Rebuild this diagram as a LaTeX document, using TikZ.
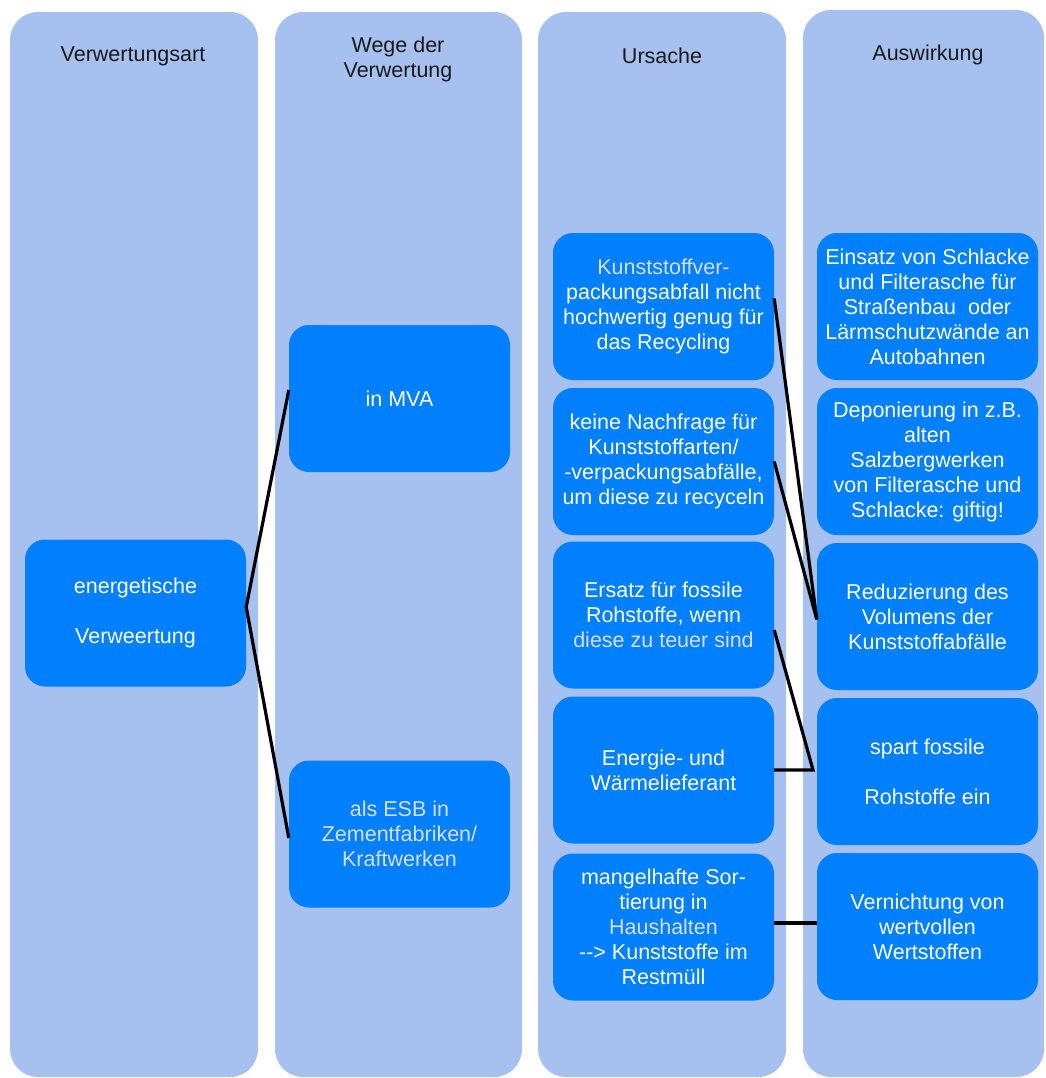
\documentclass[tikz,border=0pt]{standalone}
\usepackage{fontspec}
\setmainfont[Ligatures=NoCommon]{Liberation Sans}
\begin{document}
\begin{tikzpicture}[x=1pt,y=-1pt,
  column/.style={fill=colbg,draw=none,rounded corners=28pt},
  head/.style={font=\fontsize{21.5}{25}\selectfont,text=black!90,align=center},
  card/.style={fill=cardblue,draw=none,rounded corners=20pt,
    minimum width=221pt,minimum height=147pt,inner sep=0pt,
    text=white,align=center,font=\fontsize{21.5}{25}\selectfont},
  link/.style={line width=3.2pt,black}]
\definecolor{colbg}{HTML}{A6C0F0}
\definecolor{cardblue}{HTML}{0080FF}
\definecolor{pale}{HTML}{D8DEF8}
\useasboundingbox (0,0) rectangle (1045,1078);
\fill[white] (0,0) rectangle (1045,1078);

% four column panels
\path[column] (10,12) rectangle (258,1077);
\path[column] (275,12) rectangle (522,1077);
\path[column] (538,12) rectangle (786,1077);
\path[column] (803,10) rectangle (1044,1077);

% column headings
\node[head] (h1) at (133,56) {Verwertungsart};
\node[head] (h2) at (398,59) {Wege der\\Verwertung};
\node[head] (h3) at (662,56) {Ursache};
\node[head] (h4) at (928,55) {Auswirkung};

% kind of recovery
\node[card] (ev) at (135.5,613) {energetische\\[25pt]Verweertung};

% routes
\node[card] (mva) at (399.5,398.5) {in MVA};
\node[card] (esb) at (399.5,834) {\textcolor{pale}{als ESB in}\\\textcolor{pale}{Zementfabriken/}\\\textcolor{pale}{Kraftwerken}};

% causes
\node[card] (u1) at (663.5,306.5) {\textcolor{pale}{Kunststoffver-}\\packungsabfall nicht\\hochwertig genug für\\das Recycling};
\node[card] (u2) at (663.5,461.5) {keine Nachfrage für\\Kunststoffarten/\\-verpackungsabfälle,\\um diese zu recyceln};
\node[card] (u3) at (663.5,615) {Ersatz für fossile\\Rohstoffe, wenn\\\textcolor{pale}{diese zu teuer sind}};
\node[card] (u4) at (663.5,770) {Energie- und\\Wärmelieferant};
\node[card] (u5) at (663.5,927) {mangelhafte Sor-\\tierung in\\\textcolor{pale}{Haushalten}\\{-}{-}> Kunststoffe im\\Restmüll};

% effects
\node[card] (a1) at (927.5,306.5) {Einsatz von Schlacke\\und Filterasche für\\Straßenbau\ \ oder\\Lärmschutzwände an\\Autobahnen};
\node[card] (a2) at (927.5,461.5) {Deponierung in z.B.\\alten\\Salzbergwerken\\von Filterasche und\\Schlacke: giftig!};
\node[card] (a3) at (927.5,616.5) {Reduzierung des\\Volumens der\\Kunststoffabfälle};
\node[card] (a4) at (927.5,771.5) {spart fossile\\[25pt]Rohstoffe ein};
\node[card] (a5) at (927.5,926.5) {Vernichtung von\\wertvollen\\Wertstoffen};

% connectors
\draw[link] ([yshift=8.5pt]mva.west) -- ([yshift=6pt]ev.east) -- ([yshift=-4pt]esb.west);
\draw[link] ([yshift=8pt]u1.east) -- ([yshift=-3pt]a3.west);
\draw[link] (u2.east) -- ([yshift=-3pt]a3.west);
\coordinate (j) at (813,770);
\draw[link] ([yshift=-15pt]u3.east) -- (j) -- (u4.east);
\draw[link] ([yshift=4pt]u5.east) -- ([yshift=4pt]u5.east -| a5.west);
\end{tikzpicture}
\end{document}
